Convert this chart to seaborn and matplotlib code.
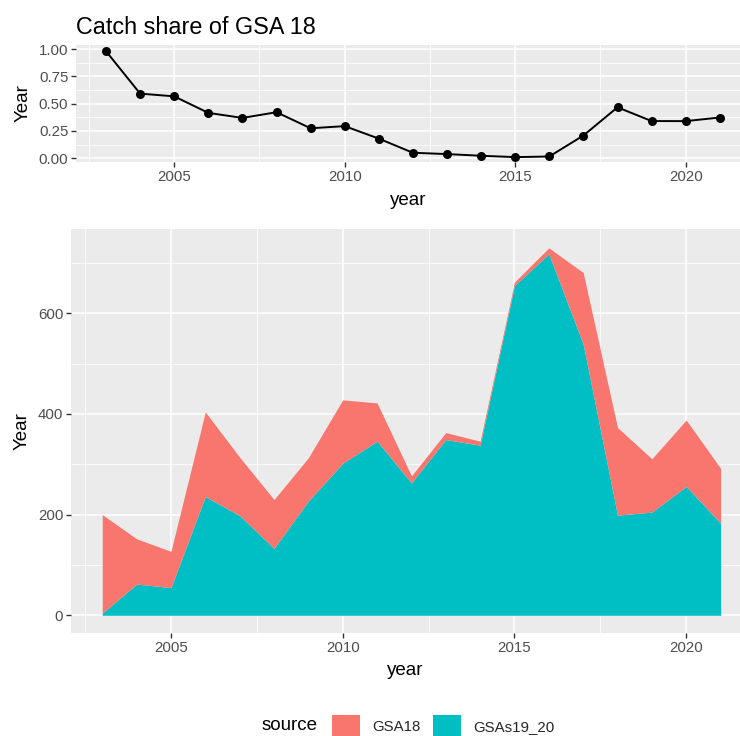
import numpy as np
import pandas as pd
import matplotlib
matplotlib.use("Agg")
import matplotlib.pyplot as plt
from matplotlib.patches import Patch
import seaborn as sns

years = list(range(2003, 2022))
gsa18 = [196, 90, 72, 168, 116, 97, 86, 126, 76, 14, 14, 8, 7, 12, 142, 174, 106, 132, 109]
gsas19_20 = [4, 62, 55, 236, 198, 133, 227, 302, 346, 263, 349, 338, 655, 718, 539, 199, 205, 256, 183]
sources = ["GSA18", "GSAs19_20"]
colors = {"GSA18": "#F8766D", "GSAs19_20": "#00BFC4"}
x_ticks = [2005, 2010, 2015, 2020]
top_yticks = [0.0, 0.25, 0.5, 0.75, 1.0]
bot_yticks = [0, 200, 400, 600]

df = pd.DataFrame({"year": years, "GSA18": gsa18, "GSAs19_20": gsas19_20})
df["share"] = df["GSA18"] / (df["GSA18"] + df["GSAs19_20"])

sns.set_theme(style="darkgrid")
plt.rcParams["font.family"] = ["Liberation Sans", "DejaVu Sans"]

W, H = 740, 736
fig = plt.figure(figsize=(W / 100, H / 100), dpi=100)

def px_axes(left, top, right, bottom):
    return fig.add_axes([left / W, 1 - bottom / H, (right - left) / W, (bottom - top) / H])

TICK = 10.8
TITLE = 13.5

def style(ax):
    ax.set_facecolor("#EBEBEB")
    for s in ax.spines.values():
        s.set_visible(False)
    ax.grid(which="major", color="white", linewidth=1.1)
    ax.grid(which="minor", color="white", linewidth=0.55)
    ax.set_axisbelow(True)
    ax.tick_params(which="major", axis="both", length=3.5, width=1.0, color="#333333",
                   labelsize=TICK, labelcolor="#4D4D4D", pad=2, direction="out",
                   bottom=True, left=True)
    ax.tick_params(which="minor", length=0)

# Top panel: share line
ax1 = px_axes(76, 45, 740, 162)
sns.lineplot(data=df, x="year", y="share", ax=ax1, color="black", linewidth=1.4,
             marker="o", markersize=6.5, markeredgewidth=0, markerfacecolor="black")
style(ax1)
ax1.set_xlim(2002.12, 2002.12 + 664 / 34.1)
ax1.set_ylim(-0.034, 1.037)
ax1.set_xticks(x_ticks)
ax1.set_xticks([2002.5, 2007.5, 2012.5, 2017.5], minor=True)
ax1.set_yticks(top_yticks)
ax1.set_yticklabels(["0.00", "0.25", "0.50", "0.75", "1.00"])
ax1.set_yticks([0.125, 0.375, 0.625, 0.875], minor=True)
ax1.set_xlabel("year", fontsize=TITLE, color="black", labelpad=6)
ax1.set_ylabel("Year", fontsize=TITLE, color="black", labelpad=5)
ax1.set_title("Catch share of GSA 18", loc="left", fontsize=16.8, color="black", pad=8)

# Bottom panel: stacked area
ax2 = px_axes(71, 229, 740, 633.3)
ax2.stackplot(df["year"], df["GSAs19_20"], df["GSA18"],
              colors=[colors["GSAs19_20"], colors["GSA18"]], linewidth=0)
style(ax2)
ax2.set_xlim(2002.09, 2002.09 + 669 / 34.35)
ax2.set_ylim(-35.8, 767.5)
ax2.set_xticks(x_ticks)
ax2.set_xticks([2002.5, 2007.5, 2012.5, 2017.5], minor=True)
ax2.set_yticks(bot_yticks)
ax2.set_yticks([100, 300, 500, 700], minor=True)
ax2.set_xlabel("year", fontsize=TITLE, color="black", labelpad=5)
ax2.set_ylabel("Year", fontsize=TITLE, color="black", labelpad=5)

# Legend
handles = [Patch(facecolor=colors[s], edgecolor="none") for s in sources]
fig.text(262 / W, 1 - 726 / H, "source", fontsize=TITLE, color="black", va="center", ha="left")
fig.legend(handles, sources, loc="center left", bbox_to_anchor=(332 / W, 1 - 726 / H),
           ncol=2, frameon=False, fontsize=TICK, handlelength=1.87, handleheight=1.95,
           handletextpad=0.8, columnspacing=0.87, borderpad=0, borderaxespad=0)

fig.savefig("out.png", dpi=100, facecolor="white")
